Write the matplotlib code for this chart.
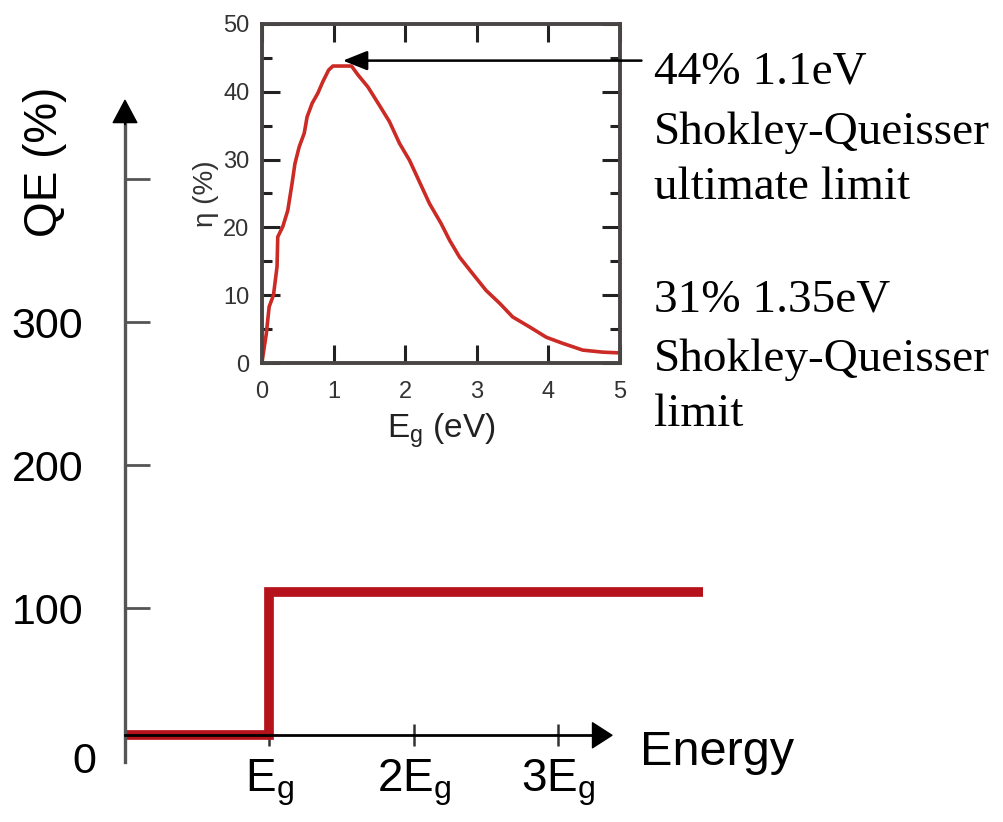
import matplotlib
matplotlib.use("Agg")
import matplotlib.pyplot as plt
import numpy as np

plt.rcParams['font.family'] = ['Liberation Sans', 'DejaVu Sans']
plt.rcParams['mathtext.default'] = 'regular'

# main schematic: QE step versus photon energy (in units of Eg)
energy = [0, 1, 4.0]
qe = [11, 111, 111]
qe_ticks = [100, 200, 300, 400]
qe_ticklabels = ['100', '200', '300', '']
energy_ticks = [1, 2, 3]
energy_ticklabels = ['$E_g$', '$2E_g$', '$3E_g$']

# inset: detailed-balance efficiency versus band gap
eg = [0.0, 0.06, 0.10, 0.16, 0.21, 0.22, 0.29, 0.36, 0.42, 0.46, 0.52, 0.59,
      0.63, 0.70, 0.78, 0.85, 0.93, 0.99, 1.25, 1.34, 1.48, 1.64, 1.78, 1.92,
      2.06, 2.20, 2.34, 2.50, 2.62, 2.76, 2.94, 3.13, 3.32, 3.50, 3.74, 3.97,
      4.20, 4.48, 4.76, 4.97]
eta = [0.15, 4.3, 8.3, 10.0, 14.2, 18.6, 20.1, 22.5, 26.5, 29.4, 31.9, 33.9,
       36.3, 38.3, 39.8, 41.5, 43.2, 43.8, 43.8, 42.5, 40.7, 38.0, 35.6, 32.4,
       29.9, 26.7, 23.5, 20.6, 18.1, 15.6, 13.2, 10.7, 8.8, 6.8, 5.3, 3.8,
       2.9, 1.9, 1.6, 1.5]
peak = (1.13, 44.6)

W, H = 1004, 822
fig = plt.figure(figsize=(W / 100, H / 100), dpi=100)


def px(x, y):
    return x / W, 1 - y / H


# main axes fill the figure, limits chosen so origin sits at (125, 751) px
ax = fig.add_axes([0, 0, 1, 1])
ax.set_xlim(-125 / 144.5, (W - 125) / 144.5)
ax.set_ylim((751 - H) / 1.43, 751 / 1.43)
ax.patch.set_alpha(0)

for s in ['top', 'right']:
    ax.spines[s].set_visible(False)
ax.spines['left'].set_position(('data', 0))
ax.spines['left'].set_bounds(-8, 440)
ax.spines['left'].set_color('#555555')
ax.spines['left'].set_linewidth(2.4)
ax.spines['bottom'].set_position(('data', 11))
ax.spines['bottom'].set_bounds(0, 3.3)
ax.spines['bottom'].set_color('black')
ax.spines['bottom'].set_linewidth(2.0)

ax.set_yticks(qe_ticks)
ax.set_yticklabels(qe_ticklabels)
ax.tick_params(axis='y', direction='in', length=18, width=2, color='#555555',
               labelsize=31, pad=30)
ax.set_xticks(energy_ticks)
ax.set_xticklabels(energy_ticklabels)
ax.tick_params(axis='x', direction='inout', length=16, width=1.8, color='#333333',
               labelsize=33, pad=8)

ax.step(energy, qe, where='post', color='#b5121b', lw=7,
        solid_joinstyle='miter', solid_capstyle='butt')

# axis arrowheads
ax.annotate('', xy=(0, 455), xytext=(0, 438),
            arrowprops=dict(facecolor='black', edgecolor='black', width=0.1,
                            headwidth=17, headlength=16, shrink=0))
ax.annotate('', xy=(3.37, 11), xytext=(3.25, 11),
            arrowprops=dict(facecolor='black', edgecolor='black', width=0.1,
                            headwidth=18, headlength=14, shrink=0))

ax.text(-0.2, -8, '0', fontsize=31, ha='right', va='center')
fig.text(*px(640, 752), 'Energy', fontsize=35, ha='left', va='center')
fig.text(*px(45, 162), 'QE (%)', fontsize=33, rotation=90, ha='center', va='center')

# inset
ins = fig.add_axes([262 / W, (H - 363) / H, 358 / W, 339 / H])
ins.plot(eg, eta, color='#cc2a24', lw=2.6)
ins.set_xlim(0, 5)
ins.set_ylim(0, 50)
ins.set_xticks(range(0, 6))
ins.set_yticks(range(0, 51, 10))
ins.set_yticks(range(5, 50, 10), minor=True)
ins.tick_params(which='both', direction='in', top=True, right=True, color='#222222',
                labelsize=17, labelcolor='#333333', width=2.2)
ins.tick_params(which='major', length=13)
ins.tick_params(axis='x', which='major', pad=13)
ins.tick_params(axis='y', which='major', pad=9)
ins.tick_params(which='minor', length=7)
for s in ins.spines.values():
    s.set_linewidth(2.8)
    s.set_color('#4a4545')
ins.set_xlabel('$E_g$ (eV)', fontsize=24, labelpad=6, color='#222222')
ins.set_ylabel('η (%)', fontsize=20, labelpad=3, color='#333333')

ins.annotate('', xy=peak, xytext=(5.3, peak[1]), annotation_clip=False,
             arrowprops=dict(arrowstyle='-|>,head_length=0.75,head_width=0.3',
                             mutation_scale=20, lw=1.8, color='black',
                             shrinkA=0, shrinkB=0))

# right-hand notes
notes = [('44% 1.1eV', 72), ('Shokley-Queisser', 133), ('ultimate limit', 188),
         ('31% 1.35eV', 300), ('Shokley-Queisser', 360), ('limit', 415)]
for txt, yy in notes:
    fig.text(*px(654, yy), txt, fontsize=34, family='Liberation Serif',
             ha='left', va='center')

fig.savefig('out.png', dpi=100)
